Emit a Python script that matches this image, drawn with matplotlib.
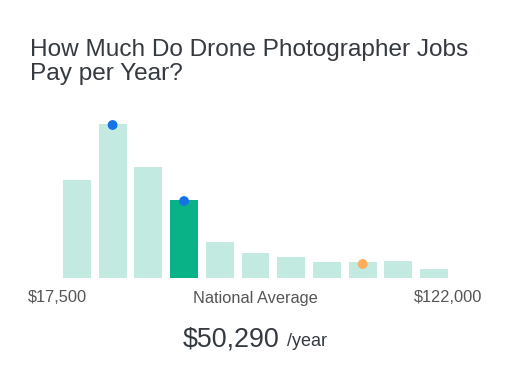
import matplotlib
matplotlib.use("Agg")
from matplotlib import pyplot as plt

plt.rcParams['font.family'] = ['Liberation Sans', 'DejaVu Sans']

# Salary distribution bars (relative heights)
bar_heights = [98, 154, 111, 78, 36, 25, 21, 16, 16, 17, 9]
highlight_bar = 3
# markers: (bar index, height, colour)
marker_bars = [1, 3, 8]
marker_heights = [153, 77, 14]
marker_colors = ['#1473e6', '#1473e6', '#ffad5c']

title = "How Much Do Drone Photographer Jobs\nPay per Year?"
low_label = "$17,500"
mid_label = "National Average"
high_label = "$122,000"
avg_value = "$50,290"
avg_unit = "/year"

W, H = 513, 369
fig = plt.figure(figsize=(W / 100, H / 100), dpi=100)
fig.patch.set_facecolor('white')

# axes placed in pixel units
ax = fig.add_axes([59 / W, 91 / H, (452 - 59) / W, 160 / H])
colors = ['#c2eae0'] * len(bar_heights)
colors[highlight_bar] = '#09b287'
ax.bar(range(len(bar_heights)), bar_heights, width=0.78, color=colors)
ax.scatter(marker_bars, marker_heights, s=50, c=marker_colors, zorder=3, clip_on=False, linewidths=0)
ax.set_xlim(-0.5, len(bar_heights) - 0.5)
ax.set_ylim(0, 160)
ax.axis('off')

fig.text(30 / W, 1 - 80 / H, title, fontsize=17.6, color='#343a40', va='baseline', ha='left', linespacing=1.12)

fig.text(28 / W, 1 - 298 / H, low_label, fontsize=11.8, color='#555555', va='center', ha='left')
fig.text(255 / W, 1 - 298 / H, mid_label, fontsize=11.8, color='#555555', va='center', ha='center')
fig.text(482 / W, 1 - 298 / H, high_label, fontsize=11.8, color='#555555', va='center', ha='right')

fig.text(279 / W, 1 - 346 / H, avg_value, fontsize=19.4, color='#343a40', va='baseline', ha='right')
fig.text(287 / W, 1 - 346 / H, avg_unit, fontsize=13, color='#343a40', va='baseline', ha='left')

fig.savefig('out.png', dpi=100, facecolor='white')
